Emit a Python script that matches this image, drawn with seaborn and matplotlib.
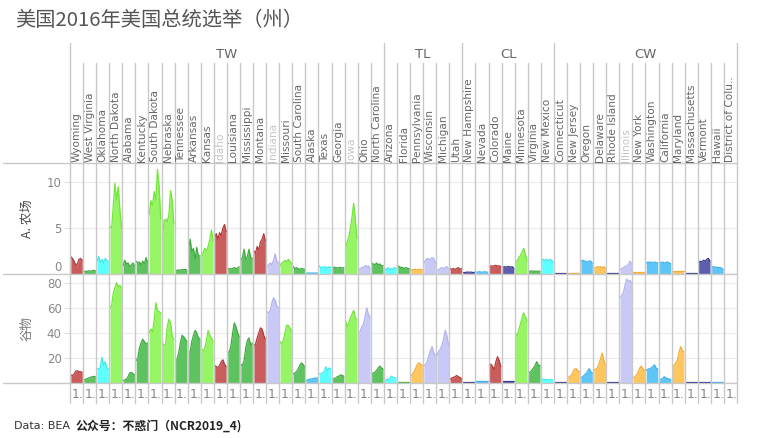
import numpy as np
import pandas as pd
import matplotlib
matplotlib.use("Agg")
import matplotlib.pyplot as plt
import seaborn as sns

# ---------------- data ----------------
title = "美国2016年美国总统选举（州）"
states = ["Wyoming", "West Virginia", "Oklahoma", "North Dakota", "Alabama", "Kentucky",
          "South Dakota", "Nebraska", "Tennessee", "Arkansas", "Kansas", "Idaho",
          "Louisiana", "Mississippi", "Montana", "Indiana", "Missouri", "South Carolina",
          "Alaska", "Texas", "Georgia", "Iowa", "Ohio", "North Carolina",
          "Arizona", "Florida", "Pennsylvania", "Wisconsin", "Michigan", "Utah",
          "New Hampshire", "Nevada", "Colorado", "Maine", "Minnesota", "Virginia", "New Mexico",
          "Connecticut", "New Jersey", "Oregon", "Delaware", "Rhode Island", "Illinois",
          "New York", "Washington", "California", "Maryland", "Massachusetts", "Vermont",
          "Hawaii", "District of Colu.."]
groups = ["TW"] * 24 + ["TL"] * 6 + ["CL"] * 7 + ["CW"] * 14
group_order = ["TW", "TL", "CL", "CW"]
color_class = ["red", "green", "cyan", "lgreen", "green", "green",
               "lgreen", "lgreen", "green", "green", "lgreen", "red",
               "green", "green", "red", "lav", "lgreen", "green",
               "blue", "cyan", "green", "lgreen", "lav", "green",
               "cyan", "green", "orange", "lav", "lav", "red",
               "navy", "blue", "red", "navy", "lgreen", "green", "cyan",
               "navy", "orange", "blue", "orange", "navy", "lav",
               "orange", "blue", "blue", "orange", "navy", "navy",
               "blue", "peach"]
row_names = ["A. 农场", "谷物"]
x_label = "1."
footer_a = "Data: BEA"
footer_b = "公众号：不惑门（NCR2019_4)"

farm = [
    [1.9, 1.7, 1.4, 1.0, 1.1, 1.6, 1.7, 1.5],
    [0.25, 0.3, 0.3, 0.35, 0.3, 0.35, 0.4, 0.35],
    [1.4, 1.9, 1.3, 1.6, 1.2, 1.7, 1.5, 1.3],
    [5.2, 5.0, 7.5, 9.9, 8.0, 9.5, 7.0, 5.0],
    [0.9, 1.5, 1.1, 1.2, 0.8, 1.0, 1.2, 0.9],
    [1.4, 1.2, 1.3, 1.0, 1.4, 1.1, 1.8, 1.2],
    [6.5, 8.0, 7.5, 9.0, 8.0, 11.4, 9.5, 6.0],
    [3.7, 5.8, 6.0, 5.7, 6.5, 9.1, 8.0, 5.5],
    [0.35, 0.4, 0.45, 0.4, 0.5, 0.45, 0.5, 0.4],
    [2.6, 3.8, 2.4, 2.8, 1.6, 2.9, 1.9, 2.0],
    [1.7, 2.4, 2.8, 2.5, 3.0, 3.8, 4.8, 3.6],
    [4.0, 4.4, 3.8, 4.5, 4.2, 5.0, 5.4, 4.6],
    [0.5, 0.6, 0.55, 0.6, 0.7, 0.6, 0.65, 0.8],
    [1.5, 1.8, 2.7, 1.6, 1.9, 2.7, 1.8, 1.7],
    [2.5, 2.3, 3.0, 2.6, 3.5, 3.8, 4.4, 3.6],
    [0.8, 1.0, 1.2, 1.0, 1.5, 2.2, 1.4, 1.2],
    [0.9, 1.2, 1.3, 1.5, 1.3, 1.6, 1.4, 1.1],
    [0.8, 0.6, 0.7, 0.6, 0.5, 0.6, 0.55, 0.5],
    [0.08, 0.1, 0.1, 0.1, 0.1, 0.1, 0.1, 0.1],
    [0.9, 0.6, 0.8, 0.7, 0.8, 0.6, 0.8, 0.7],
    [0.7, 0.75, 0.7, 0.65, 0.7, 0.7, 0.65, 0.7],
    [2.8, 3.5, 4.0, 5.0, 6.2, 7.7, 6.0, 3.9],
    [0.5, 0.6, 0.7, 0.7, 0.9, 0.8, 0.9, 0.6],
    [1.2, 1.1, 1.0, 1.2, 1.0, 1.1, 0.9, 0.9],
    [0.6, 0.5, 0.7, 0.5, 0.6, 0.5, 0.7, 0.6],
    [0.9, 0.8, 0.7, 0.7, 0.6, 0.7, 0.6, 0.6],
    [0.5, 0.45, 0.5, 0.5, 0.45, 0.5, 0.5, 0.45],
    [1.2, 1.5, 1.7, 1.6, 1.6, 1.8, 1.7, 1.2],
    [0.4, 0.5, 0.6, 0.7, 0.6, 0.7, 0.8, 0.6],
    [0.6, 0.5, 0.6, 0.5, 0.6, 0.7, 0.5, 0.6],
    [0.15, 0.15, 0.2, 0.2, 0.2, 0.2, 0.15, 0.2],
    [0.2, 0.2, 0.25, 0.2, 0.2, 0.25, 0.2, 0.2],
    [0.8, 0.9, 0.85, 0.9, 0.95, 0.85, 0.9, 0.8],
    [0.7, 0.8, 0.75, 0.8, 0.8, 0.75, 0.8, 0.6],
    [1.2, 1.4, 1.8, 2.0, 2.4, 2.8, 2.2, 1.4],
    [0.3, 0.3, 0.35, 0.3, 0.3, 0.3, 0.3, 0.3],
    [1.5, 1.6, 1.5, 1.6, 1.4, 1.6, 1.5, 1.3],
    [0.15, 0.15, 0.15, 0.15, 0.15, 0.15, 0.15, 0.15],
    [0.15, 0.15, 0.15, 0.15, 0.15, 0.15, 0.15, 0.15],
    [1.3, 1.5, 1.4, 1.4, 1.3, 1.4, 1.4, 1.2],
    [0.6, 0.7, 0.8, 0.75, 0.8, 0.7, 0.8, 0.6],
    [0.1, 0.1, 0.1, 0.1, 0.1, 0.1, 0.1, 0.1],
    [0.5, 0.6, 0.7, 0.8, 0.9, 1.0, 1.4, 1.1],
    [0.2, 0.2, 0.2, 0.2, 0.2, 0.2, 0.2, 0.2],
    [1.2, 1.3, 1.25, 1.3, 1.2, 1.3, 1.25, 1.2],
    [1.2, 1.25, 1.3, 1.2, 1.25, 1.3, 1.2, 1.1],
    [0.3, 0.3, 0.3, 0.3, 0.3, 0.3, 0.3, 0.3],
    [0.1, 0.1, 0.1, 0.1, 0.1, 0.1, 0.1, 0.1],
    [1.2, 1.4, 1.3, 1.5, 1.4, 1.6, 1.7, 1.4],
    [0.8, 0.8, 0.75, 0.75, 0.7, 0.7, 0.65, 0.5],
    [0.05, 0.05, 0.05, 0.05, 0.05, 0.05, 0.05, 0.05],
]

grain = [
    [6.5, 6.0, 7.0, 9.5, 9.8, 9.0, 9.0, 8.5],
    [2.5, 3.0, 3.5, 4.0, 4.5, 5.0, 5.3, 5.0],
    [11, 11.5, 12, 20.5, 14, 17, 12, 11],
    [60, 62, 72, 76, 80, 77, 78, 76],
    [2, 2.5, 3, 5, 8, 8.5, 7.5, 6.5],
    [18, 20, 28, 32, 35, 33, 31, 32],
    [40, 43, 41, 50, 64, 58, 57, 56],
    [32, 30, 31, 45, 51, 48, 37, 35],
    [17, 19, 24, 32, 38, 37, 35, 33],
    [24, 25, 33, 38, 42, 40, 36, 35],
    [27, 26, 28, 34, 42, 38, 36, 33],
    [14, 13, 12.5, 14, 17, 18.5, 15, 13],
    [24, 25, 30, 40, 48, 45, 40, 37],
    [15, 14, 18, 28, 34, 36, 30, 32],
    [30, 31, 36, 40, 44, 43, 38, 35],
    [57, 56, 58, 64, 68, 66, 61, 60],
    [33, 31, 34, 40, 46, 46, 44, 42],
    [7, 8, 9, 11, 14, 16, 15, 13],
    [2, 2.5, 3, 3.2, 3.5, 3.8, 4, 3.8],
    [7, 7.5, 8, 9, 13, 10, 12, 11],
    [3, 3.5, 4, 5, 5.5, 6.5, 6, 5.5],
    [50, 45, 48, 52, 55, 58, 52, 51],
    [40, 41, 45, 47, 53, 60, 55, 52],
    [7, 8, 8.5, 10, 12, 13.5, 12, 11],
    [2, 2.5, 3, 3, 5.5, 4.5, 4, 4],
    [1, 1, 1, 1, 1, 1, 1, 1],
    [6, 7, 9, 12, 15, 16, 15, 14],
    [14, 15, 17, 22, 26, 29, 24, 22],
    [22, 25, 27, 30, 35, 42, 38, 30],
    [3, 4, 4.5, 5, 6, 5, 4.5, 3.5],
    [0.8, 0.8, 0.8, 0.8, 0.8, 0.8, 0.8, 0.8],
    [1.6, 1.6, 1.6, 1.6, 1.6, 1.6, 1.6, 1.6],
    [14, 15, 13, 11, 17, 21, 18, 13],
    [1.3, 1.3, 1.3, 1.3, 1.3, 1.3, 1.3, 1.3],
    [40, 38, 42, 47, 52, 56, 53, 50],
    [8, 9, 10, 12, 14, 17, 14, 14],
    [3, 3, 2.8, 2.7, 2.8, 2.5, 2.5, 2.5],
    [0.8, 0.8, 0.8, 0.8, 0.8, 0.8, 0.8, 0.8],
    [4, 5, 6, 8, 11, 11.5, 10, 9],
    [4, 5, 6, 7.5, 9, 11.5, 9, 8],
    [10, 11, 12, 15, 19, 24, 18, 14],
    [0.5, 0.5, 0.5, 0.5, 0.5, 0.5, 0.5, 0.5],
    [68, 70, 72, 78, 83, 81, 82, 80],
    [4, 5, 6, 9, 12, 13.5, 11, 10],
    [10, 11, 11.5, 12, 13, 14.5, 12, 11],
    [2.5, 3, 3.5, 5, 4, 3.5, 3, 2.8],
    [13, 14, 16, 18, 24, 29, 26, 25],
    [0.8, 0.8, 0.8, 0.8, 0.8, 0.8, 0.8, 0.8],
    [0.8, 0.8, 0.8, 0.8, 0.8, 0.8, 0.8, 0.8],
    [0.5, 0.5, 0.5, 0.5, 0.5, 0.5, 0.5, 0.5],
    [0.1, 0.1, 0.1, 0.1, 0.1, 0.1, 0.1, 0.1],
]

# ---------------- style ----------------
palette = {
    "red": ("#c95c5c", "#b23a3a"),
    "lgreen": ("#96f564", "#72e638"),
    "green": ("#5ec25e", "#40ab40"),
    "cyan": ("#5effff", "#3cebeb"),
    "lav": ("#c9c9f7", "#b2b2ee"),
    "blue": ("#5ec6f7", "#3cb0ee"),
    "orange": ("#ffc65e", "#f5ac3a"),
    "navy": ("#5e5eae", "#3a3a8e"),
    "peach": ("#f7dcc6", "#eec8ae"),
}
sns.set_theme(style="white")
plt.rcParams["font.family"] = ["DejaVu Sans", "Noto Sans CJK SC"]

W, H = 783, 438
fig = plt.figure(figsize=(W / 100, H / 100), dpi=100)
fig.patch.set_facecolor("white")

L, R = 70, 737
n = len(states)
col_w = (R - L) / n
Y_GRP, Y_NAME, Y1, Y2, Y3, Y_BOT = 43, 63, 163, 274, 383, 403
LINE_C = "#c8c8c8"


def fx(px):
    return px / W


def fy(py):
    return 1 - py / H


# long table
recs = []
for row_name, data in zip(row_names, [farm, grain]):
    for i, (s, vals) in enumerate(zip(states, data)):
        m = len(vals)
        for k, v in enumerate(vals):
            recs.append({"row": row_name, "state": s, "x": i + 0.06 + 0.88 * k / (m - 1), "value": v})
df = pd.DataFrame(recs)

fill_pal = {s: palette[c][0] for s, c in zip(states, color_class)}
line_pal = {s: palette[c][1] for s, c in zip(states, color_class)}

row_specs = [(Y1, Y2, 12.1, [0, 5, 10]), (Y2, Y3, 87, [20, 40, 60, 80])]
axes = []
for (ytop, ybot, ymax, ticks), row_name in zip(row_specs, row_names):
    ax = fig.add_axes([fx(L), fy(ybot), fx(R - L), (ybot - ytop) / H])
    d = df[df["row"] == row_name]
    for s, g in d.groupby("state", sort=False):
        ax.fill_between(g["x"], 0, g["value"], color=fill_pal[s], lw=0, zorder=2)
    sns.lineplot(data=d, x="x", y="value", hue="state", palette=line_pal, legend=False,
                 estimator=None, sort=True, linewidth=0.9, ax=ax, zorder=3)
    ax.set_xlim(0, n)
    ax.set_ylim(0, ymax)
    ax.set_yticks(ticks)
    ax.set_xticks([])
    ax.set_xlabel("")
    ax.set_ylabel("")
    ax.yaxis.grid(True, color="#ececec", lw=0.8)
    ax.set_axisbelow(True)
    for sp in ax.spines.values():
        sp.set_visible(False)
    ax.tick_params(axis="y", left=True, length=4, color="#dddddd", width=0.8, pad=2,
                   labelsize=8.5, labelcolor="#888888")
    ax.set_facecolor("none")
    axes.append(ax)

# the "0" label on first row sits inside the pane
for lab in axes[0].get_yticklabels():
    if lab.get_text() in ("0", "\u22120"):
        lab.set_va("bottom")

# overlay in pixel coordinates
ov = fig.add_axes([0, 0, 1, 1], zorder=10)
ov.set_xlim(0, W)
ov.set_ylim(H, 0)
ov.axis("off")
ov.patch.set_alpha(0)

# horizontal rules
for y in (Y1, Y2, Y3):
    ov.plot([3, R], [y, y], color=LINE_C, lw=1.0)

# vertical rules
grp_bounds = {0, n}
for gname in group_order:
    idx = [i for i, g in enumerate(groups) if g == gname]
    grp_bounds.add(idx[0])
    grp_bounds.add(idx[-1] + 1)
for i in range(n + 1):
    x = L + i * col_w
    top = Y_GRP if i in grp_bounds else Y_NAME
    ov.plot([x, x], [top, Y_BOT], color=LINE_C, lw=1.0)

# group labels
for gname in group_order:
    idx = [i for i, g in enumerate(groups) if g == gname]
    xc = L + (idx[0] + idx[-1] + 1) / 2 * col_w
    ov.text(xc, 55, gname, ha="center", va="center", fontsize=9.5, color="#666666")

# state names
for i, s in enumerate(states):
    c = "#c4c4c4" if s.startswith("I") else "#666666"
    ov.text(L + (i + 0.5) * col_w, 161.5, s, rotation=90, ha="center", va="bottom",
            fontsize=7.6, color=c)

# x labels
for i in range(n):
    ov.text(L + i * col_w + 1.5, 395, x_label, ha="left", va="center", fontsize=9,
            color="#888888")

# row titles
ov.text(27, (Y1 + Y2) / 2, row_names[0], rotation=90, ha="center", va="center",
        fontsize=9, color="#444444", family=["Noto Sans CJK SC", "DejaVu Sans"])
ov.text(27, (Y2 + Y3) / 2, row_names[1], rotation=90, ha="center", va="center",
        fontsize=9, color="#777777", family=["Noto Sans CJK SC", "DejaVu Sans"])

# title
ov.text(15, 20, title, ha="left", va="center", fontsize=14.6, color="#555555",
        family=["Noto Sans CJK SC", "DejaVu Sans"])

# footer
ov.text(14, 426, footer_a, ha="left", va="center", fontsize=8, color="#333333")
ov.text(76, 426, footer_b, ha="left", va="center", fontsize=8.6, color="#222222",
        fontweight="bold", family=["Noto Sans CJK SC", "DejaVu Sans"])

fig.savefig("out.png", dpi=100, facecolor="white")
